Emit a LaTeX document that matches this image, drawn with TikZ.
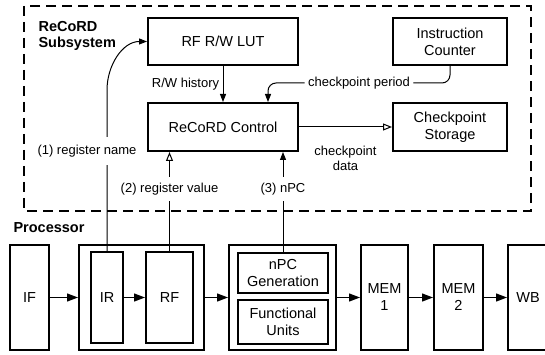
\documentclass[tikz,border=0pt]{standalone}
\usepackage{fontspec}
\setmainfont{Liberation Sans}
\usetikzlibrary{arrows.meta}

\begin{document}
\begin{tikzpicture}[x=1pt, y=-1pt,
    box/.style={draw, line width=2pt, align=center, inner sep=0pt, font=\fontsize{14.5}{17}\selectfont},
    lbl/.style={fill=white, align=center, font=\fontsize{13}{15}\selectfont},
    ttl/.style={anchor=west, align=left, font=\bfseries\fontsize{14.5}{16}\selectfont},
    link/.style={line width=1pt},
    fillarr/.style={link, -{Triangle[length=8pt, width=6pt]}},
    openarr/.style={link, -{Triangle[open, length=9pt, width=7pt]}},
    pipe/.style={line width=1.3pt, -{Triangle[length=11pt, width=8pt]}}]
    \useasboundingbox (0,0) rectangle (545,355);
    \clip (0,0) rectangle (545,355);
        \draw[line width=2pt, dash pattern=on 10pt off 6pt] (24,6) rectangle (531,211);
        \node[ttl] (sub) at (35,36) {ReCoRD\\Subsystem};
        \node[ttl] (proc) at (10,228) {Processor};
        \node[box, minimum width=150pt, minimum height=47pt] (lut) at (223,41.5) {RF R/W LUT};
        \node[box, minimum width=114pt, minimum height=47pt] (ic) at (450,41.5) {Instruction\\Counter};
        \node[box, minimum width=150pt, minimum height=48pt] (ctrl) at (223,127) {ReCoRD Control};
        \node[box, minimum width=114pt, minimum height=48pt] (cs) at (450,127) {Checkpoint\\Storage};
        \node[box, minimum width=39pt, minimum height=105pt] (if) at (29.5,297.5) {IF};
        \node[box, minimum width=125pt, minimum height=105pt] (id) at (141.5,297.5) {};
        \node[box, minimum width=32pt, minimum height=91pt] (ir) at (107,297.5) {IR};
        \node[box, minimum width=47pt, minimum height=91pt] (rf) at (169.5,297.5) {RF};
        \node[box, minimum width=107pt, minimum height=105pt] (ex) at (282.5,297.5) {};
        \node[box, minimum width=90pt, minimum height=40pt] (npc) at (283,273) {nPC\\Generation};
        \node[box, minimum width=90pt, minimum height=44pt] (fu) at (283,322) {Functional\\Units};
        \node[box, minimum width=47pt, minimum height=105pt] (mem1) at (384.5,297.5) {MEM\\1};
        \node[box, minimum width=49pt, minimum height=105pt] (mem2) at (458.5,297.5) {MEM\\2};
        \node[box, minimum width=40pt, minimum height=105pt] (wb) at (528,297.5) {WB};
        \draw[pipe] (if) -- (id);
        \draw[pipe] (ir) -- (rf);
        \draw[pipe] (id) -- (ex);
        \draw[pipe] (ex) -- (mem1);
        \draw[pipe] (mem1) -- (mem2);
        \draw[pipe] (mem2) -- (wb);
        \draw[fillarr] (lut) -- node[left] {\fontsize{13}{15}\selectfont R/W history} (ctrl);
        \draw[fillarr, rounded corners=8pt] (ic.south) |- node[lbl, pos=0.75, inner ysep=1pt] {checkpoint period} (268,83) -- ([xshift=45pt]ctrl.north);
        \draw[openarr] (ctrl) -- node[below=15pt, align=center, font=\fontsize{13}{15}\selectfont] {checkpoint\\data} (cs);
        \draw[fillarr] (ir.north) -- (107,90) to[out=90, in=180] (lut.west);
        \draw[openarr] (rf.north) -- (rf.north |- ctrl.south);
        \draw[fillarr] (npc.north) -- (npc.north |- ctrl.south);
        \node[lbl, inner ysep=8pt] (rn) at (87,151) {(1) register name};
        \node[lbl, inner ysep=6pt] (rv) at (169.5,189) {(2) register value};
        \node[lbl, inner ysep=6pt] (np) at (283,189) {(3) nPC};
\end{tikzpicture}
\end{document}
